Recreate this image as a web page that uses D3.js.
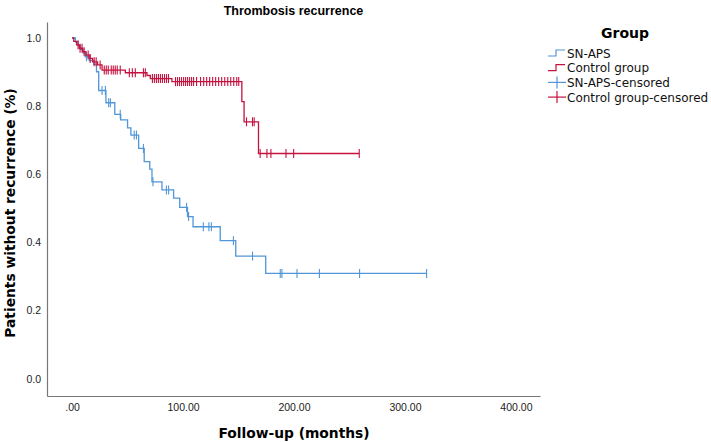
<!DOCTYPE html>
<html><head><meta charset="utf-8">
<script src="https://cdn.jsdelivr.net/npm/d3@7"></script>
<style>body{margin:0;background:#fff}svg{display:block}</style>
</head><body>
<svg id="chart" width="711" height="442"></svg>
<script>
// ---- DATA ----
const seriesNames = ["SN-APS", "Control group"];
const legendLabels = ["SN-APS", "Control group", "SN-APS-censored", "Control group-censored"];
const xTicks = [0, 100, 200, 300, 400];
const yTicks = [0, 0.2, 0.4, 0.6, 0.8, 1.0];

// step events: [time (months), survival after event]
const snapsSteps = [[0,1.0],[3,0.989],[5.5,0.978],[7.5,0.967],[10,0.956],[12,0.945],[15.5,0.934],[19.5,0.923],[22,0.901],[24,0.846],[30.5,0.810],[38.5,0.776],[43.8,0.760],[50,0.736],[53,0.715],[60,0.676],[65,0.637],[70,0.615],[72,0.578],[81,0.554],[91.5,0.530],[97,0.503],[104,0.476],[109,0.446],[133.5,0.405],[147.5,0.360],[174.5,0.309]];
const snapsCensored = [13,27,30,33,34.5,43.4,56,58,64.3,72.9,85,87,103.2,105,118.3,123.3,125.5,145.4,162.6,187.6,189.1,202.7,222.9,259.1,319.5];
const snapsEnd = 319.5;

const controlSteps = [[0,1.0],[1.5,0.990],[4,0.980],[6.5,0.970],[9.5,0.960],[12.5,0.950],[16,0.940],[18.5,0.930],[23,0.921],[27,0.906],[48,0.898],[67.5,0.890],[70.5,0.881],[90,0.872],[153,0.813],[155,0.754],[168,0.661]];
const controlCensored = [5.4,7.2,9,10.9,14.5,16.3,19.9,21.7,25.3,29,30.8,32.6,35.3,37.1,38.9,40.7,43.4,51.6,54.3,57,64.3,66,72.4,74.2,76,77.8,79.6,81.4,83.3,85.1,86.9,93.2,95,96.8,98.6,100.5,102.3,104.1,105.9,107.7,109.5,112.2,115.8,118.6,121.3,124,126.7,129.4,132.1,134.8,137.6,140.3,143,145.7,148.4,150.2,157.2,162.6,164.1,169.5,175.6,179.2,192.8,199.7,258.8];
const controlEnd = 258.8;

// ---- STYLE ----
const colors = {"SN-APS": "#5096d8", "Control group": "#c5123f"};
const svg = d3.select("#chart");
const x = d3.scaleLinear().domain([-22.6, 421.7]).range([47, 540]);
const y = d3.scaleLinear().domain([-0.0508, 1.047]).range([396, 22]);

// axes
const xAxis = d3.axisBottom(x).tickValues(xTicks).tickSize(0).tickPadding(8)
  .tickFormat(d => d === 0 ? ".00" : d.toFixed(2));
const gx = svg.append("g").attr("transform", "translate(0,396)").call(xAxis);
const yAxis = d3.axisLeft(y).tickValues(yTicks).tickSize(0).tickPadding(6).tickFormat(d3.format(".1f"));
const gy = svg.append("g").attr("transform", "translate(47,0)").call(yAxis);
[gx, gy].forEach(g => {
  g.select(".domain").attr("stroke", "#777").attr("stroke-width", 1.2);
  g.selectAll("text").attr("font-family", "Liberation Sans, Arial, sans-serif").attr("font-size", 10.5).attr("fill", "#222");
});

// curves
function stepPath(steps, end) {
  const pts = steps.slice();
  pts.push([end, steps[steps.length - 1][1]]);
  return pts;
}
function survAt(steps, t) {
  let s = 1;
  for (const [tt, v] of steps) { if (tt <= t) s = v; }
  return s;
}
const line = d3.line().x(d => x(d[0])).y(d => y(d[1])).curve(d3.curveStepAfter);
const groups = [
  {name: "SN-APS", steps: snapsSteps, cens: snapsCensored, end: snapsEnd},
  {name: "Control group", steps: controlSteps, cens: controlCensored, end: controlEnd}
];
groups.forEach(g => {
  svg.append("path").datum(stepPath(g.steps, g.end))
    .attr("d", line).attr("fill", "none").attr("stroke", colors[g.name]).attr("stroke-width", 1.3);
  svg.append("g").selectAll("line").data(g.cens).join("line")
    .attr("x1", d => x(d)).attr("x2", d => x(d))
    .attr("y1", d => y(survAt(g.steps, d)) - 4.5).attr("y2", d => y(survAt(g.steps, d)) + 4.5)
    .attr("stroke", colors[g.name]).attr("stroke-width", 1.1);
});

// titles
svg.append("text").attr("x", 293.5).attr("y", 15).attr("text-anchor", "middle")
  .attr("font-family", "Liberation Sans, Arial, sans-serif").attr("font-weight", "bold").attr("font-size", 12.5)
  .text("Thrombosis recurrence");
svg.append("text").attr("x", 294).attr("y", 438).attr("text-anchor", "middle")
  .attr("font-family", "DejaVu Sans, sans-serif").attr("font-weight", "bold").attr("font-size", 13.8)
  .text("Follow-up (months)");
svg.append("text").attr("transform", "translate(15,213) rotate(-90)").attr("text-anchor", "middle")
  .attr("font-family", "DejaVu Sans, sans-serif").attr("font-weight", "bold").attr("font-size", 13.8)
  .text("Patients without recurrence (%)");

// legend
const lg = svg.append("g");
lg.append("text").attr("x", 625).attr("y", 38).attr("text-anchor", "middle")
  .attr("font-family", "DejaVu Sans, sans-serif").attr("font-weight", "bold").attr("font-size", 14)
  .text("Group");
const legColors = [colors["SN-APS"], colors["Control group"], colors["SN-APS"], colors["Control group"]];
legendLabels.forEach((lab, i) => {
  const cy = 53 + i * 14.7;
  const c = legColors[i];
  if (i < 2) {
    lg.append("path").attr("d", `M548,${cy+3}H556V${cy-3}H565`).attr("fill", "none").attr("stroke", c).attr("stroke-width", 1.2);
  } else {
    lg.append("line").attr("x1", 548).attr("x2", 566).attr("y1", cy).attr("y2", cy).attr("stroke", c).attr("stroke-width", 1.2);
    lg.append("line").attr("x1", 557).attr("x2", 557).attr("y1", cy - 6).attr("y2", cy + 6).attr("stroke", c).attr("stroke-width", 1.2);
  }
  lg.append("text").attr("x", 567).attr("y", cy + 4.5)
    .attr("font-family", "DejaVu Sans, sans-serif").attr("font-size", 12).attr("fill", "#111")
    .text(lab);
});
</script>
</body></html>
